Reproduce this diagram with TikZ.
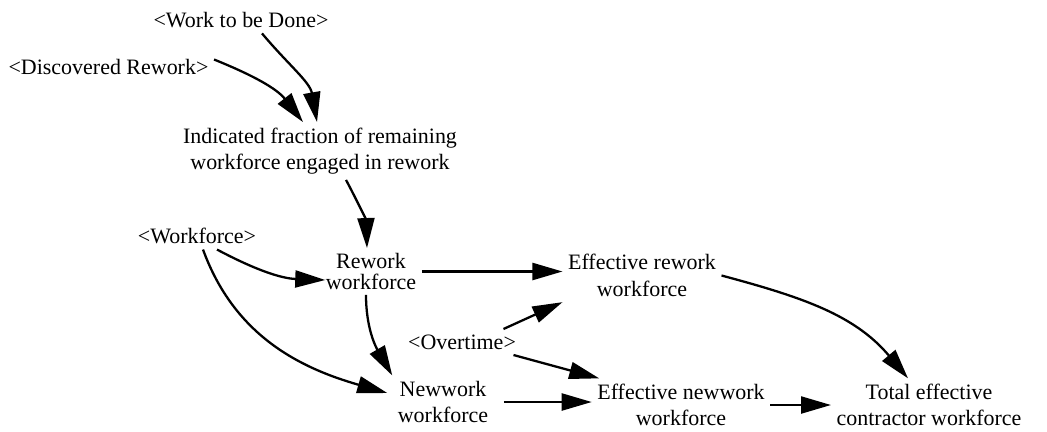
\documentclass[tikz,border=0pt]{standalone}
\usepackage{fontspec}
\setmainfont{Liberation Serif}
\usetikzlibrary{arrows.meta}

\begin{document}
\begin{tikzpicture}[
    var/.style={align=center, inner sep=3pt, font=\rmfamily\fontsize{12.5}{15}\selectfont},
    link/.style={-{Triangle[length=6mm,width=3.4mm]}, line width=1.3pt},
]
    \useasboundingbox (0,0) rectangle (20.94,8.62);

    % Shadow variables
    \node[var] (wtbd) at (4.82,8.22) {<Work to be Done>};
    \node[var] (disc) at (2.17,7.28) {<Discovered Rework>};
    \node[var] (wf) at (3.94,3.90) {<Workforce>};
    \node[var] (ot) at (9.24,1.78) {<Overtime>};

    % Auxiliaries
    \node[var] (ind) at (6.40,5.60) {Indicated fraction of remaining\\workforce engaged in rework};
    \node[var, font=\rmfamily\fontsize{12.5}{11.5}\selectfont] (rw) at (7.42,3.19) {Rework\\workforce};
    \node[var] (nw) at (8.86,0.58) {Newwork\\workforce};
    \node[var] (erw) at (12.84,3.11) {Effective rework\\workforce};
    \node[var] (enw) at (13.62,0.52) {Effective newwork\\workforce};
    \node[var] (tot) at (18.58,0.52) {Total effective\\contractor workforce};

    % Links into the rework fraction
    \draw[link] ([xshift=4.2mm]wtbd.south) to[out=-50,in=100] ([xshift=-0.6mm]ind.north);
    \draw[link] ([yshift=1.5mm]disc.east) to[out=-22,in=128] ([xshift=-3.4mm]ind.north);
    \draw[link] ([xshift=5.2mm]ind.south) to[out=-62,in=92] ([xshift=-0.8mm]rw.north);

    % Workforce split
    \draw[link] ([xshift=4mm]wf.south) to[out=-28,in=178] ([xshift=1mm,yshift=-1.7mm]rw.west);
    \draw[link] ([xshift=1.2mm]wf.south) to[out=-70,in=164] ([xshift=-1mm,yshift=1.8mm]nw.west);
    \draw[link] ([xshift=-1mm]rw.south) to[out=-90,in=120] (nw.north west);

    % Effective workforce
    \draw[link] (rw.east) -- (rw.east -| erw.west);
    \draw[link] ([xshift=-3.6mm]ot.north east) -- (erw.south west);
    \draw[link] ([xshift=-1.6mm]ot.south east) -- ([xshift=1.5mm]enw.north west);
    \draw[link] ([xshift=2mm]nw.east) -- (nw.east -| enw.west);

    % Total
    \draw[link] (enw.east) -- (enw.east -| tot.west);
    \draw[link] (erw.east) to[out=-15,in=130] ([xshift=-4.2mm]tot.north);
\end{tikzpicture}
\end{document}
